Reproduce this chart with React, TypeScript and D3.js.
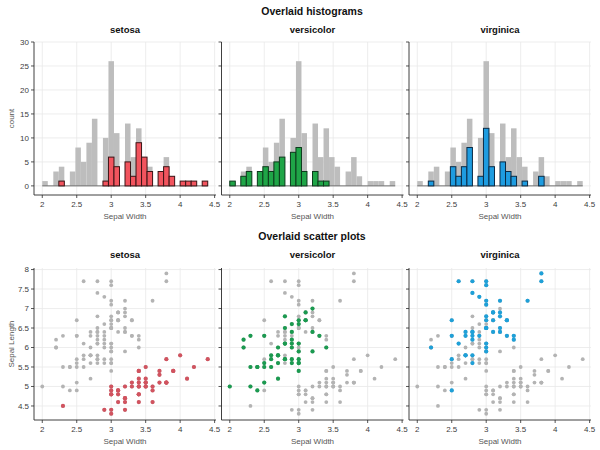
import React, { useEffect } from "react";
import * as d3 from "d3";

// Iris data: sepal width / sepal length per species
const setosaWidth = [3.5,3.0,3.2,3.1,3.6,3.9,3.4,3.4,2.9,3.1,3.7,3.4,3.0,3.0,4.0,4.4,3.9,3.5,3.8,3.8,3.4,3.7,3.6,3.3,3.4,3.0,3.4,3.5,3.4,3.2,3.1,3.4,4.1,4.2,3.1,3.2,3.5,3.6,3.0,3.4,3.5,2.3,3.2,3.5,3.8,3.0,3.8,3.2,3.7,3.3];
const setosaLength = [5.1,4.9,4.7,4.6,5.0,5.4,4.6,5.0,4.4,4.9,5.4,4.8,4.8,4.3,5.8,5.7,5.4,5.1,5.7,5.1,5.4,5.1,4.6,5.1,4.8,5.0,5.0,5.2,5.2,4.7,4.8,5.4,5.2,5.5,4.9,5.0,5.5,4.9,4.4,5.1,5.0,4.5,4.4,5.0,5.1,4.8,5.1,4.6,5.3,5.0];
const versicolorWidth = [3.2,3.2,3.1,2.3,2.8,2.8,3.3,2.4,2.9,2.7,2.0,3.0,2.2,2.9,2.9,3.1,3.0,2.7,2.2,2.5,3.2,2.8,2.5,2.8,2.9,3.0,2.8,3.0,2.9,2.6,2.4,2.4,2.7,2.7,3.0,3.4,3.1,2.3,3.0,2.5,2.6,3.0,2.6,2.3,2.7,3.0,2.9,2.9,2.5,2.8];
const versicolorLength = [7.0,6.4,6.9,5.5,6.5,5.7,6.3,4.9,6.6,5.2,5.0,5.9,6.0,6.1,5.6,6.7,5.6,5.8,6.2,5.6,5.9,6.1,6.3,6.1,6.4,6.6,6.8,6.7,6.0,5.7,5.5,5.5,5.8,6.0,5.4,6.0,6.7,6.3,5.6,5.5,5.5,6.1,5.8,5.0,5.6,5.7,5.7,6.2,5.1,5.7];
const virginicaWidth = [3.3,2.7,3.0,2.9,3.0,3.0,2.5,2.9,2.5,3.6,3.2,2.7,3.0,2.5,2.8,3.2,3.0,3.8,2.6,2.2,3.2,2.8,2.8,2.7,3.3,3.2,2.8,3.0,2.8,3.0,2.8,3.8,2.8,2.8,2.6,3.0,3.4,3.1,3.0,3.1,3.1,3.1,2.7,3.2,3.3,3.0,2.5,3.0,3.4,3.0];
const virginicaLength = [6.3,5.8,7.1,6.3,6.5,7.6,4.9,7.3,6.7,7.2,6.5,6.4,6.8,5.7,5.8,6.4,6.5,7.7,7.7,6.0,6.9,5.6,7.7,6.3,6.7,7.2,6.2,6.1,6.4,7.2,7.4,7.9,6.4,6.3,6.1,7.7,6.3,6.4,6.0,6.9,6.7,6.9,5.8,6.8,6.7,6.7,6.3,6.5,6.2,5.9];

// Histogram counts (30 bins of width 0.08 from 2.0 to 4.4)
const binStart = 2.0;
const binWidth = 0.08;
const histAll = [1,0,3,4,0,3,8,5,9,14,0,10,26,11,0,13,6,12,6,4,0,3,6,2,0,1,1,1,0,1];
const histSetosa = [0,0,0,1,0,0,0,0,0,0,0,1,6,4,0,5,2,9,6,3,0,3,4,2,0,1,1,1,0,1];
const histVersicolor = [1,0,2,3,0,3,4,3,5,6,0,7,8,3,0,3,1,1,0,0,0,0,0,0,0,0,0,0,0,0];
const histVirginica = [0,0,1,0,0,0,4,2,4,8,0,2,12,4,0,5,3,2,0,1,0,0,2,0,0,0,0,0,0,0];

const speciesNames = ["setosa", "versicolor", "virginica"];
const xTicks = [2, 2.5, 3, 3.5, 4, 4.5];
const countTicks = [0, 5, 10, 15, 20, 25, 30];
const lengthTicks = [4.5, 5, 5.5, 6, 6.5, 7, 7.5, 8];

const histFill = ["#f2545e", "#1fa547", "#1e9ce0"];
const histEdge = ["#3b1416", "#0d3a1c", "#0b2b45"];
const dotColor = ["#d1535f", "#1b9a50", "#1ea0d8"];

const FONT = "'Liberation Sans', Arial, Helvetica, sans-serif";

const panelLeft = [34, 221.5, 409];
const panelW = 182;
const xDomain: [number, number] = [1.88, 4.52];

const allWidth = [...setosaWidth, ...versicolorWidth, ...virginicaWidth];
const allLength = [...setosaLength, ...versicolorLength, ...virginicaLength];
const speciesHist = [histSetosa, histVersicolor, histVirginica];
const speciesW = [setosaWidth, versicolorWidth, virginicaWidth];
const speciesL = [setosaLength, versicolorLength, virginicaLength];

function Axes({ x, y, xt, yt, showY, yTop, yBot, left, fmtY }: any) {
  return (
    <g>
      {xt.map((t: number) => (
        <line key={"gx" + t} x1={x(t)} x2={x(t)} y1={yTop} y2={yBot} stroke="#e9e9e9" strokeWidth={0.8} />
      ))}
      {yt.map((t: number) => (
        <line key={"gy" + t} x1={left} x2={left + panelW} y1={y(t)} y2={y(t)} stroke="#e9e9e9" strokeWidth={0.8} />
      ))}
    </g>
  );
}

function AxisLines({ x, y, xt, yt, showY, yTop, yBot, left, fmtY }: any) {
  return (
    <g fontFamily={FONT} fontSize={8} fill="#404040">
      <line x1={left} x2={left} y1={yTop} y2={yBot} stroke="#2a2a2a" strokeWidth={0.9} />
      <line x1={left} x2={left + panelW} y1={yBot} y2={yBot} stroke="#2a2a2a" strokeWidth={0.9} />
      {yt.map((t: number) => (
        <g key={"ty" + t}>
          <line x1={left - 3} x2={left} y1={y(t)} y2={y(t)} stroke="#2a2a2a" strokeWidth={0.8} />
          {showY && (
            <text x={left - 5} y={y(t)} dy="0.35em" textAnchor="end">{fmtY(t)}</text>
          )}
        </g>
      ))}
      {xt.map((t: number) => (
        <g key={"tx" + t}>
          <line x1={x(t)} x2={x(t)} y1={yBot} y2={yBot + 3} stroke="#2a2a2a" strokeWidth={0.8} />
          <text x={x(t)} y={yBot + 12} textAnchor="middle">{String(t)}</text>
        </g>
      ))}
      <text x={left + panelW / 2} y={yBot + 24} textAnchor="middle" fill="#555" fontSize={8}>Sepal Width</text>
    </g>
  );
}

export default function App() {
  useEffect(() => {
    document.body.style.margin = "0";
  }, []);

  const hTop = 42, hBot = 195;
  const sTop = 268, sBot = 420;
  const yCount = d3.scaleLinear().domain([-1.9, 30]).range([hBot, hTop]);
  const yLen = d3.scaleLinear().domain([4.14, 8.04]).range([sBot, sTop]);
  const fmt = d3.format("~g");

  return (
    <svg width={600} height={450} style={{ position: "absolute", left: 0, top: 0, background: "#fff" }}>
      <rect width={600} height={450} fill="#fff" />
      <text x={312} y={14.5} textAnchor="middle" fontFamily={FONT} fontWeight="bold" fontSize={10.5} fill="#111">Overlaid histograms</text>
      <text x={312} y={239.5} textAnchor="middle" fontFamily={FONT} fontWeight="bold" fontSize={10.5} fill="#111">Overlaid scatter plots</text>
      <text transform={`translate(14,${(hTop + hBot) / 2}) rotate(-90)`} textAnchor="middle" fontFamily={FONT} fontSize={8} fill="#555">count</text>
      <text transform={`translate(14,${(sTop + sBot) / 2}) rotate(-90)`} textAnchor="middle" fontFamily={FONT} fontSize={8} fill="#555">Sepal Length</text>
      {speciesNames.map((name, si) => {
        const left = panelLeft[si];
        const x = d3.scaleLinear().domain(xDomain).range([left, left + panelW]);
        const hist = speciesHist[si];
        const y0 = yCount(0);
        return (
          <g key={name}>
            {/* histogram panel */}
            <text x={left + panelW / 2} y={32.5} textAnchor="middle" fontFamily={FONT} fontWeight="bold" fontSize={9.5} fill="#111">{name}</text>
            <Axes x={x} y={yCount} xt={xTicks} yt={countTicks} yTop={hTop} yBot={hBot} left={left} />
            {histAll.map((c, i) =>
              c > 0 ? (
                <rect key={"ga" + i} x={x(binStart + i * binWidth)} width={x(binStart + (i + 1) * binWidth) - x(binStart + i * binWidth)}
                  y={yCount(c)} height={y0 - yCount(c)} fill="#bdbdbd" />
              ) : null
            )}
            <line x1={x(binStart)} x2={x(binStart + histAll.length * binWidth)} y1={y0} y2={y0} stroke="#6f6f6f" strokeWidth={1} />
            {hist.map((c, i) =>
              c > 0 ? (
                <rect key={"hs" + i} x={x(binStart + i * binWidth)} width={x(binStart + (i + 1) * binWidth) - x(binStart + i * binWidth)}
                  y={yCount(c)} height={y0 - yCount(c)} fill={histFill[si]} stroke={histEdge[si]} strokeWidth={1} />
              ) : null
            )}
            <AxisLines x={x} y={yCount} xt={xTicks} yt={countTicks} showY={si === 0} yTop={hTop} yBot={hBot} left={left} fmtY={fmt} />

            {/* scatter panel */}
            <text x={left + panelW / 2} y={257.5} textAnchor="middle" fontFamily={FONT} fontWeight="bold" fontSize={9.5} fill="#111">{name}</text>
            <Axes x={x} y={yLen} xt={xTicks} yt={lengthTicks} yTop={sTop} yBot={sBot} left={left} />
            {allWidth.map((w, i) => (
              <circle key={"ap" + i} cx={x(w)} cy={yLen(allLength[i])} r={1.9} fill="#b3b3b3" />
            ))}
            {speciesW[si].map((w, i) => (
              <circle key={"sp" + i} cx={x(w)} cy={yLen(speciesL[si][i])} r={2.1} fill={dotColor[si]} />
            ))}
            <AxisLines x={x} y={yLen} xt={xTicks} yt={lengthTicks} showY={si === 0} yTop={sTop} yBot={sBot} left={left} fmtY={fmt} />
          </g>
        );
      })}
    </svg>
  );
}
